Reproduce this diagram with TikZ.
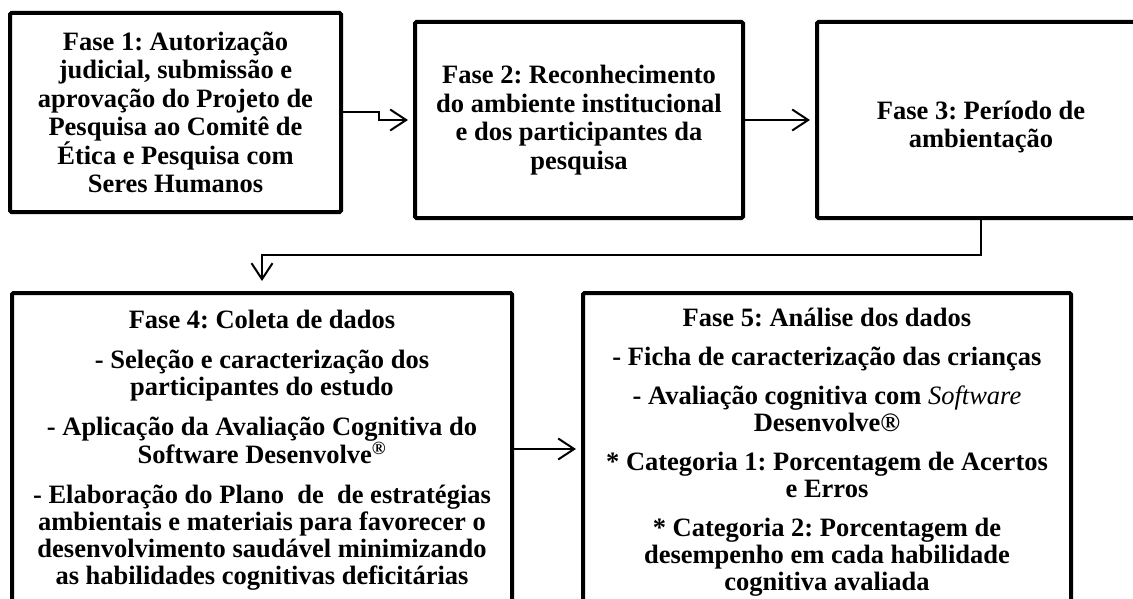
\documentclass[tikz,border=0pt]{standalone}
\usepackage{fontspec}
\setmainfont{Liberation Serif}
\usetikzlibrary{arrows.meta,calc}
\frenchspacing
\begin{document}
\begin{tikzpicture}[x=1pt,y=-1pt,
  box/.style={draw,line width=4pt,inner sep=0pt,rounded corners=1.5pt},
  txt/.style={align=center,inner sep=0pt,font=\fontsize{26.5}{28.5}\selectfont\bfseries\frenchspacing},
  btxt/.style={align=center,inner sep=0pt,font=\fontsize{26.5}{27}\selectfont\bfseries\frenchspacing},
  arr/.style={line width=2pt,-{Straight Barb[length=16pt,width=21pt,line width=2pt]}},
]
\useasboundingbox (0,0) rectangle (1133,599);
% top row
\node[box,txt,minimum width=331pt,minimum height=199pt] (b1) at (175.5,112.5)
  {Fase 1: Autorização\\judicial, submissão e\\aprovação do Projeto de\\Pesquisa ao Comitê de\\Ética e Pesquisa com\\Seres Humanos};
\node[box,txt,minimum width=328pt,minimum height=196pt] (b2) at (579,120)
  {Fase 2: Reconhecimento\\do ambiente institucional\\e dos participantes da\\pesquisa};
\node[box,minimum width=328pt,minimum height=196pt] (b3) at (981,120) {};
\node[txt] (t3) at (981,127) {Fase 3: Período de\\ambientação};
% bottom row
\node[box,minimum width=500pt,minimum height=347pt] (b4) at (262,466.5) {};
\node[btxt,anchor=north] (t4) at ([yshift=-19pt]b4.north)
  {Fase 4: Coleta de dados\\[13pt]
   - Seleção e caracterização dos\\participantes do estudo\\[13pt]
   - Aplicação da Avaliação Cognitiva do\\Software Desenvolve\textsuperscript{®}\\[13pt]
   - Elaboração do Plano\ \ de\ \ de estratégias\\ambientais e materiais para favorecer o\\desenvolvimento saudável minimizando\\as habilidades cognitivas deficitárias};
\node[box,minimum width=488pt,minimum height=347pt] (b5) at (827,466.5) {};
\node[btxt,anchor=north] (t5) at ([yshift=-17pt]b5.north)
  {Fase 5: Análise dos dados\\[12pt]
   - Ficha de caracterização das crianças\\[12pt]
   - Avaliação cognitiva com {\mdseries\itshape Software}\\Desenvolve®\\[12pt]
   * Categoria 1: Porcentagem de Acertos\\e Erros\\[12pt]
   * Categoria 2: Porcentagem de\\desempenho em cada habilidade\\cognitiva avaliada};
% connectors
\draw[arr,shorten >=5pt] (b1.east) -- ++(36,0) |- (b2.west);
\draw[arr,shorten >=5pt] (b2.east) -- (b3.west);
\draw[arr,shorten >=10pt] (b3.south) -- ++(0,35) -| (b4.north);
\draw[arr,shorten >=5pt] ([yshift=17.5pt]b4.east) -- ([yshift=17.5pt]b5.west);
\end{tikzpicture}
\end{document}
